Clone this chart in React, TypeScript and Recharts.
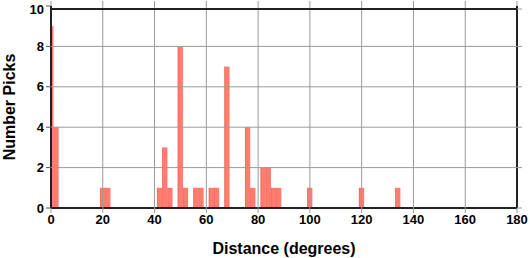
import React from 'react';
import { BarChart, Bar, XAxis, YAxis } from 'recharts';

const binCenters = [0, 2, 20, 22, 42, 44, 46, 50, 52, 56, 58, 62, 64, 68, 76, 78, 82, 84, 86, 88, 100, 120, 134];
const pickCounts = [9, 4, 1, 1, 1, 3, 1, 8, 1, 1, 1, 1, 1, 7, 4, 1, 2, 2, 1, 1, 1, 1, 1];
const xTicks = [0, 20, 40, 60, 80, 100, 120, 140, 160, 180];
const yTicks = [0, 2, 4, 6, 8, 10];

const data = binCenters.map((d, i) => ({ distance: d, picks: pickCounts[i] }));

const font = '"Liberation Sans", Arial, Helvetica, sans-serif';

const PLOT_LEFT = 51;
const PLOT_RIGHT = 517;
const PLOT_TOP = 6;
const PLOT_BOTTOM = 208;
const BIN_PX = 5.18;
const GRID = '#9a9a9a';
const FRAME = '#222';

const XTick = (props: any) => {
  const { x, y, payload } = props;
  const v = payload.value;
  return (
    <g>
      {v !== 0 && (
        <line x1={x} y1={PLOT_TOP} x2={x} y2={PLOT_BOTTOM} stroke={v === 180 ? FRAME : GRID} strokeWidth={v === 180 ? 2 : 1} />
      )}
      <line x1={x} y1={PLOT_TOP - 5} x2={x} y2={PLOT_TOP} stroke="#999" strokeWidth={1} />
      <text x={x} y={y} dy="0.71em" textAnchor="middle" fontFamily={font} fontWeight={700} fontSize={13} fill="#000">{v}</text>
    </g>
  );
};

const YTick = (props: any) => {
  const { x, y, payload } = props;
  const v = payload.value;
  return (
    <g>
      {v !== 0 && (
        <line x1={PLOT_LEFT} y1={y} x2={PLOT_RIGHT} y2={y} stroke={v === 10 ? FRAME : GRID} strokeWidth={v === 10 ? 2 : 1} />
      )}
      <line x1={PLOT_RIGHT} y1={y} x2={PLOT_RIGHT + 5} y2={y} stroke="#999" strokeWidth={1} />
      <text x={x} y={y} dy="0.355em" textAnchor="end" fontFamily={font} fontWeight={700} fontSize={13} fill="#000">{v}</text>
    </g>
  );
};

const HistBar = (props: any) => {
  const { x, y, width, height } = props;
  if (!height || height <= 0) return null;
  const cx = x + width / 2;
  const left = Math.max(cx - BIN_PX / 2, PLOT_LEFT);
  const right = cx + BIN_PX / 2;
  return (
    <g>
      <rect x={left} y={y} width={right - left} height={height} fill="#ff7d70" />
      <line x1={left + 0.3} y1={y} x2={left + 0.3} y2={y + height} stroke="#f4604f" strokeWidth={0.6} />
    </g>
  );
};

export default function App() {
  return (
    <div style={{ position: 'absolute', left: 0, top: 0, width: 530, height: 258 }}>
      <div style={{ position: 'absolute', left: 0, top: 0 }}>
        <BarChart width={530} height={258} data={data} margin={{ top: 6, right: 13, left: 51, bottom: 50 }} barSize={5}>
          <XAxis dataKey="distance" type="number" domain={[0, 180]} ticks={xTicks} hide />
          <YAxis type="number" domain={[0, 10]} ticks={yTicks} hide />
          <Bar dataKey="picks" shape={<HistBar />} isAnimationActive={false} />
        </BarChart>
      </div>
      <div style={{ position: 'absolute', left: 0, top: 0, pointerEvents: 'none' }}>
        <BarChart width={530} height={258} data={data} margin={{ top: 6, right: 13, left: 0, bottom: 0 }}>
          <XAxis
            dataKey="distance"
            type="number"
            domain={[0, 180]}
            ticks={xTicks}
            height={50}
            tick={<XTick />}
            tickSize={5}
            tickLine={{ stroke: '#999' }}
            axisLine={{ stroke: FRAME, strokeWidth: 2 }}
            label={{ value: 'Distance (degrees)', position: 'insideBottom', offset: 4, style: { fontFamily: font, fontWeight: 700, fontSize: 16, fill: '#000' } }}
          />
          <YAxis
            type="number"
            domain={[0, 10]}
            ticks={yTicks}
            width={51}
            tick={<YTick />}
            tickSize={5}
            tickLine={{ stroke: '#555' }}
            axisLine={{ stroke: FRAME, strokeWidth: 2 }}
            label={{ value: 'Number Picks', angle: -90, position: 'insideLeft', offset: 9, style: { textAnchor: 'middle', fontFamily: font, fontWeight: 700, fontSize: 16, fill: '#000' } }}
          />
          <Bar dataKey="picks" fill="none" isAnimationActive={false} />
        </BarChart>
      </div>
    </div>
  );
}
